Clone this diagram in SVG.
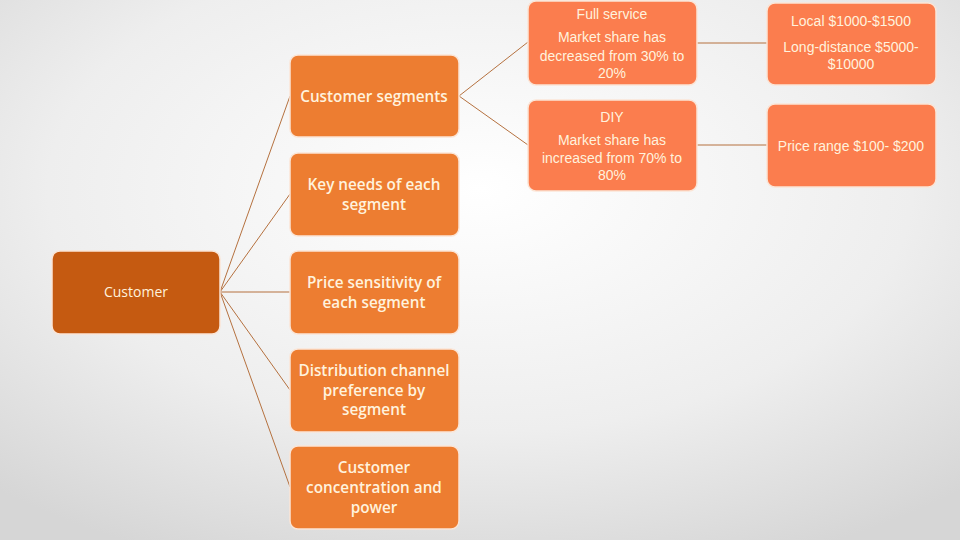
<svg xmlns="http://www.w3.org/2000/svg" width="960" height="540" viewBox="0 0 960 540">
<defs>
<radialGradient id="bg" cx="50%" cy="35%" r="75%">
<stop offset="0" stop-color="#ffffff"/>
<stop offset="0.6" stop-color="#eeeeee"/>
<stop offset="1" stop-color="#d6d6d6"/>
</radialGradient>
<style>
.root rect{fill:#c55a11;stroke:#fbe5d6;stroke-width:1.5}
.l2 rect{fill:#ed7d31;stroke:#fbe5d6;stroke-width:1.5}
.l3 rect{fill:#fb7d4e;stroke:#fbe5d6;stroke-width:1.5}
text{font-family:"Open Sans","Liberation Sans",sans-serif;fill:#fff2dd;text-anchor:middle}
.l2 text{font-size:15.3px;font-weight:600}
.root text{font-size:14px}
.l3 text{font-family:"Liberation Sans","Open Sans",sans-serif;font-size:14px}
#connectors line{stroke:#b5713f;stroke-width:1}
</style>
</defs>
<rect width="960" height="540" fill="url(#bg)"/>
<g id="connectors">
<line x1="220" y1="292" x2="290" y2="96"/>
<line x1="220" y1="292" x2="290" y2="194"/>
<line x1="220" y1="292" x2="290" y2="292"/>
<line x1="220" y1="292" x2="290" y2="390"/>
<line x1="220" y1="292" x2="290" y2="487"/>
<line x1="459" y1="96" x2="528" y2="42"/>
<line x1="459" y1="96" x2="528" y2="145"/>
<line x1="697" y1="43" x2="767" y2="43"/>
<line x1="697" y1="145" x2="767" y2="145"/>
</g>
<g id="customer" class="root"><rect x="52" y="251" width="168" height="83" rx="8"/><text x="136" y="297">Customer</text></g>
<g id="segments" class="l2"><rect x="290" y="55" width="169" height="82" rx="8"/><text x="374" y="102">Customer segments</text></g>
<g id="keyneeds" class="l2"><rect x="290" y="153" width="169" height="83" rx="8"/><text x="374" y="190">Key needs of each</text><text x="374" y="210">segment</text></g>
<g id="price" class="l2"><rect x="290" y="251" width="169" height="83" rx="8"/><text x="374" y="288">Price sensitivity of</text><text x="374" y="308">each segment</text></g>
<g id="distribution" class="l2"><rect x="290" y="349" width="169" height="83" rx="8"/><text x="374" y="376">Distribution channel</text><text x="374" y="396">preference by</text><text x="374" y="415">segment</text></g>
<g id="concentration" class="l2"><rect x="290" y="446" width="169" height="83" rx="8"/><text x="374" y="473">Customer</text><text x="374" y="493">concentration and</text><text x="374" y="513">power</text></g>
<g id="fullservice" class="l3"><rect x="528" y="1" width="169" height="84" rx="8"/><text x="612" y="19">Full service</text><text x="612" y="42">Market share has</text><text x="612" y="61">decreased from 30% to</text><text x="612" y="78">20%</text></g>
<g id="diy" class="l3"><rect x="528" y="100" width="169" height="91" rx="8"/><text x="612" y="122">DIY</text><text x="612" y="145">Market share has</text><text x="612" y="163">increased from 70% to</text><text x="612" y="180">80%</text></g>
<g id="fullprice" class="l3"><rect x="767" y="3" width="169" height="82" rx="8"/><text x="851" y="26">Local $1000-$1500</text><text x="851" y="52">Long-distance $5000-</text><text x="851" y="69">$10000</text></g>
<g id="diyprice" class="l3"><rect x="767" y="104" width="169" height="83" rx="8"/><text x="851" y="151">Price range $100- $200</text></g>
</svg>
